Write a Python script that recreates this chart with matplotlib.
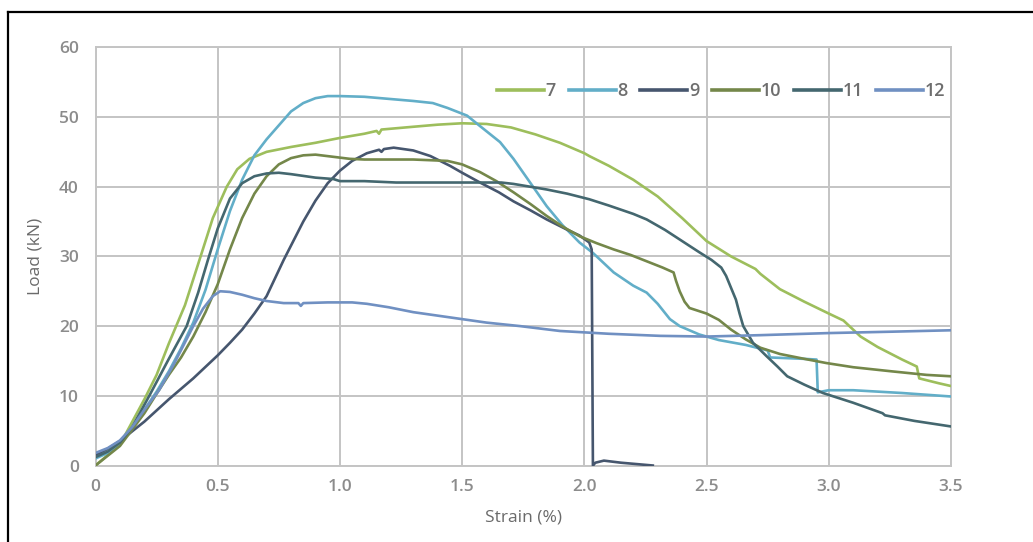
import matplotlib
matplotlib.use("Agg")
import matplotlib.pyplot as plt
from matplotlib.lines import Line2D

plt.rcParams['font.family'] = ['Open Sans', 'DejaVu Sans']

# Load–strain curves for specimens 7–12 (strain in %, load in kN)
strain_7 = [0, 0.1, 0.2, 0.25, 0.3, 0.366, 0.43, 0.48, 0.537, 0.58, 0.63, 0.7, 0.8, 0.9,
            1.0, 1.1, 1.15, 1.16, 1.17, 1.3, 1.4, 1.5, 1.6, 1.7, 1.8, 1.9, 2.0, 2.02, 2.1,
            2.2, 2.3, 2.4, 2.5, 2.6, 2.7, 2.72, 2.8, 2.9, 3.0, 3.06, 3.13, 3.2, 3.3, 3.36,
            3.37, 3.45, 3.5]
load_7 = [0, 3, 9.5, 13, 17.5, 23, 30, 35.5, 40, 42.5, 44, 45, 45.7, 46.3,
          47, 47.6, 48, 47.6, 48.2, 48.6, 48.9, 49.1, 49, 48.5, 47.5, 46.3, 44.8, 44.4, 43,
          41, 38.6, 35.5, 32.2, 30, 28.2, 27.5, 25.3, 23.5, 21.8, 20.8, 18.5, 17, 15.2, 14.2,
          12.5, 11.8, 11.4]

strain_8 = [0, 0.05, 0.1, 0.15, 0.2, 0.25, 0.3, 0.35, 0.4, 0.45, 0.5, 0.55, 0.6, 0.65, 0.7,
            0.75, 0.8, 0.85, 0.9, 0.95, 1.0, 1.1, 1.2, 1.3, 1.38, 1.44, 1.52, 1.573, 1.655,
            1.71, 1.78, 1.846, 1.91, 1.98, 2.035, 2.12, 2.2, 2.255, 2.3, 2.35, 2.39, 2.47,
            2.55, 2.66, 2.75, 2.76, 2.9, 2.95, 2.955, 3.0, 3.1, 3.3, 3.5]
load_8 = [1.0, 1.8, 3.2, 5.4, 8, 10.6, 13.5, 16.8, 20.5, 25.2, 31, 36.5, 41, 44.5, 46.8,
          48.8, 50.8, 52, 52.7, 53, 53, 52.9, 52.6, 52.3, 52, 51.3, 50.2, 48.7, 46.4,
          44, 40.5, 37.2, 34.5, 32, 30.5, 27.7, 25.8, 24.8, 23.2, 21, 20, 18.8,
          18, 17.3, 16.5, 15.5, 15.3, 15.2, 10.5, 10.8, 10.8, 10.4, 9.9]

strain_9 = [0, 0.05, 0.1, 0.2, 0.3, 0.4, 0.5, 0.55, 0.6, 0.65, 0.7, 0.77, 0.85, 0.9, 0.95,
            1.0, 1.05, 1.11, 1.16, 1.17, 1.18, 1.22, 1.3, 1.37, 1.45, 1.5, 1.573, 1.65, 1.71,
            1.78, 1.846, 1.92, 1.98, 2.02, 2.03, 2.035, 2.045, 2.08, 2.15, 2.28]
load_9 = [1.5, 2.4, 3.5, 6.3, 9.5, 12.5, 15.8, 17.6, 19.5, 21.8, 24.3, 29.5, 35, 38, 40.5,
          42.3, 43.7, 44.8, 45.3, 45.0, 45.4, 45.6, 45.2, 44.4, 43, 42, 40.6, 39.2, 37.9,
          36.6, 35.3, 34, 33, 32, 31, 0, 0.4, 0.7, 0.4, 0]

strain_10 = [0, 0.1, 0.2, 0.25, 0.3, 0.35, 0.4, 0.45, 0.5, 0.55, 0.6, 0.65, 0.7, 0.75, 0.8,
             0.85, 0.9, 0.97, 1.04, 1.1, 1.2, 1.3, 1.44, 1.5, 1.573, 1.64, 1.71, 1.78,
             1.846, 1.91, 1.98, 2.05, 2.12, 2.19, 2.255, 2.32, 2.365, 2.375, 2.39, 2.41,
             2.43, 2.5, 2.55, 2.6, 2.66, 2.72, 2.8, 2.9, 2.99, 3.1, 3.26, 3.4, 3.5]
load_10 = [0, 2.8, 7.5, 10.3, 13, 15.5, 18.5, 22, 26, 31, 35.5, 39, 41.5, 43.2, 44.1,
           44.5, 44.6, 44.3, 44, 43.9, 43.9, 43.9, 43.7, 43.2, 42.1, 40.8, 39.2, 37.5,
           35.8, 34.3, 32.9, 31.9, 31, 30.2, 29.3, 28.4, 27.7, 26.5, 25, 23.5,
           22.6, 21.8, 20.9, 19.5, 18.1, 16.9, 16, 15.3, 14.7, 14.1, 13.5, 13.0, 12.8]

strain_11 = [0, 0.05, 0.1, 0.15, 0.22, 0.3, 0.373, 0.42, 0.46, 0.5, 0.55, 0.6, 0.65, 0.7,
             0.75, 0.8, 0.9, 0.973, 1.0, 1.1, 1.23, 1.4, 1.66, 1.71, 1.846, 1.93, 2.02,
             2.1, 2.2, 2.255, 2.33, 2.4, 2.47, 2.52, 2.56, 2.58, 2.6, 2.62, 2.635, 2.65,
             2.69, 2.745, 2.79, 2.83, 2.9, 2.976, 3.1, 3.22, 3.23, 3.35, 3.5]
load_11 = [1.2, 2, 3.3, 5.5, 10, 15.3, 20, 24.8, 29.5, 34, 38.3, 40.5, 41.5, 41.9,
           42, 41.8, 41.3, 41.1, 40.8, 40.8, 40.6, 40.6, 40.6, 40.4, 39.6, 39, 38.2,
           37.3, 36.1, 35.3, 33.8, 32.2, 30.6, 29.5, 28.4, 27.2, 25.5, 23.8, 21.8, 20,
           17.6, 15.7, 14.2, 12.8, 11.6, 10.4, 9, 7.5, 7.2, 6.4, 5.6]

strain_12 = [0, 0.05, 0.1, 0.15, 0.2, 0.26, 0.32, 0.4, 0.44, 0.48, 0.51, 0.55, 0.6, 0.65,
             0.7, 0.77, 0.83, 0.84, 0.85, 0.95, 1.05, 1.11, 1.2, 1.3, 1.4, 1.52, 1.6,
             1.737, 1.9, 2.0, 2.1, 2.31, 2.5, 2.72, 3.0, 3.26, 3.5]
load_12 = [1.8, 2.5, 3.6, 5.5, 8, 10.8, 14.5, 20, 22.5, 24.3, 25, 24.9, 24.5, 24,
           23.6, 23.3, 23.3, 22.9, 23.3, 23.4, 23.4, 23.2, 22.7, 22, 21.5, 20.9, 20.5,
           20, 19.3, 19.1, 18.9, 18.6, 18.5, 18.7, 19, 19.2, 19.4]

labels = ['7', '8', '9', '10', '11', '12']
colors = ['#9DBE5C', '#62AEC8', '#46566E', '#74874A', '#44676F', '#7090C2']

x_ticks = [0, 0.5, 1.0, 1.5, 2.0, 2.5, 3.0, 3.5]
x_tick_labels = ['0', '0.5', '1.0', '1.5', '2.0', '2.5', '3.0', '3.5']
y_ticks = [0, 10, 20, 30, 40, 50, 60]

W, H = 1033, 542
fig = plt.figure(figsize=(W / 100, H / 100), dpi=100)
ax = fig.add_axes([95.5 / W, 1 - 465.5 / H, (951 - 95.5) / W, (465.5 - 47.3) / H])

series = [(strain_7, load_7), (strain_8, load_8), (strain_9, load_9),
          (strain_10, load_10), (strain_11, load_11), (strain_12, load_12)]
for (xs, ys), lab, col in zip(series, labels, colors):
    ax.plot(xs, ys, color=col, lw=1.9, label=lab, solid_joinstyle='round', zorder=3)

ax.set_xlim(0, 3.5)
ax.set_ylim(0, 60)
ax.set_xticks(x_ticks)
ax.set_xticklabels(x_tick_labels)
ax.set_yticks(y_ticks)
ax.grid(True, color='#C4C4C4', lw=1.4)
ax.set_axisbelow(True)
for sp in ax.spines.values():
    sp.set_color('#C4C4C4')
    sp.set_linewidth(1.4)
ax.tick_params(length=0, labelsize=12.5, labelcolor='#8C8C8C')
ax.tick_params(axis='x', pad=10)
ax.tick_params(axis='y', pad=12)
for t in ax.get_xticklabels() + ax.get_yticklabels():
    t.set_fontweight('semibold')

ax.set_xlabel('Strain (%)', fontsize=12.5, color='#6A6A6A', labelpad=10)
ax.set_ylabel('Load (kN)', fontsize=12.5, color='#6A6A6A', labelpad=11)

leg = ax.legend(ncol=6, loc='center right', bbox_to_anchor=(945 / W, 1 - 91 / H),
                bbox_transform=fig.transFigure, frameon=False, fontsize=13,
                handlelength=2.6, handletextpad=0.1, columnspacing=0.7,
                borderpad=0, borderaxespad=0)
for line in leg.get_lines():
    line.set_linewidth(2.6)
for t in leg.get_texts():
    t.set_color('#6E6E6E')
    t.set_fontweight('semibold')

# outer frame (left and top edges)
fig.add_artist(Line2D([8 / W, 8 / W], [0, 1 - 11.7 / H], transform=fig.transFigure,
                      color='black', lw=1.6))
fig.add_artist(Line2D([8 / W, 1], [1 - 11.7 / H, 1 - 11.7 / H], transform=fig.transFigure,
                      color='black', lw=1.6))

fig.savefig('out.png', dpi=100)
